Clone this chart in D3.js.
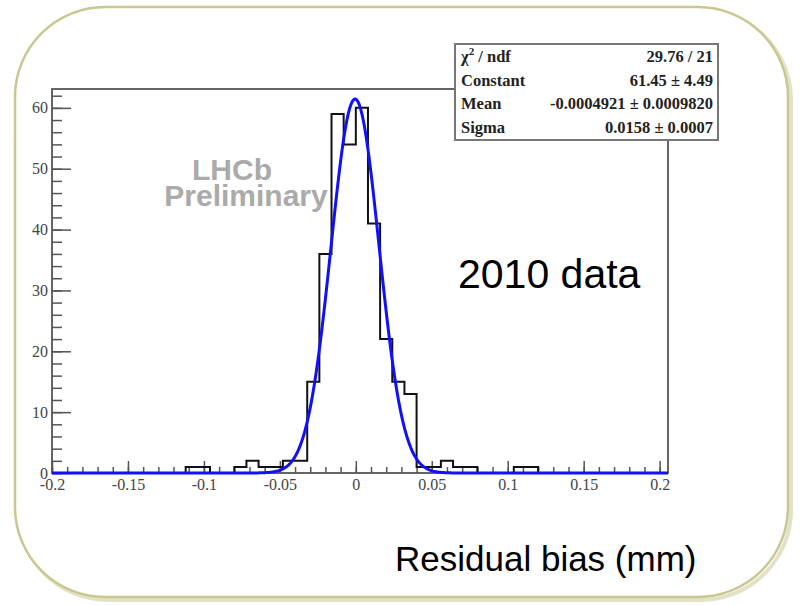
<!DOCTYPE html>
<meta charset="utf-8">
<body style="margin:0;background:#fff">
<script src="https://d3js.org/d3.v7.min.js"></script>
<script>

// histogram: 0.008 wide bins starting at -0.2
var binLo = -0.2,
    binWidth = 0.008;
var counts = [0, 0, 0, 0, 0, 0, 0, 0, 0, 0,
              0, 1, 1, 0, 0, 1, 2, 1, 1, 2,
              2, 15, 36, 59, 54, 60, 41, 22, 15, 13,
              1, 1, 2, 1, 1, 0, 0, 0, 1, 1,
              0, 0, 0, 0, 0, 0, 0, 0, 0, 0, 0];

// gaussian fit parameters (from the stats box)
var fitConstant = 61.45,
    fitMean = -0.0004921,
    fitSigma = 0.0158;

var statLabels = ["\u03c7", "Constant", "Mean", "Sigma"];
var statValues = ["29.76 / 21", "61.45 \u00b1 4.49", "-0.0004921 \u00b1 0.0009820", "0.0158 \u00b1 0.0007"];

var xTicks = [-0.2, -0.15, -0.1, -0.05, 0, 0.05, 0.1, 0.15, 0.2],
    xTickLabels = ["-0.2", "-0.15", "-0.1", "-0.05", "0", "0.05", "0.1", "0.15", "0.2"];
var yTicks = [0, 10, 20, 30, 40, 50, 60];

var W = 807, H = 606;
var frame = {left: 52, right: 668, top: 89, bottom: 473};

var svg = d3.select("body").append("svg")
    .attr("width", W)
    .attr("height", H);

// rounded panel with soft shadow
svg.append("rect")
    .attr("x", 18).attr("y", 10)
    .attr("width", 773).attr("height", 590)
    .attr("rx", 90).attr("ry", 90)
    .attr("fill", "none")
    .attr("stroke", "#e2e2c8")
    .attr("stroke-width", 4);
svg.append("rect")
    .attr("x", 15).attr("y", 7)
    .attr("width", 773).attr("height", 590)
    .attr("rx", 90).attr("ry", 90)
    .attr("fill", "#fff")
    .attr("stroke", "#c9c78f")
    .attr("stroke-width", 2.5);

var x = d3.scaleLinear().domain([-0.2, 0.2055]).range([frame.left, frame.right]),
    y = d3.scaleLinear().domain([0, 63.1]).range([frame.bottom, frame.top]);

svg.append("defs").append("clipPath")
    .attr("id", "clip")
  .append("rect")
    .attr("x", frame.left).attr("y", frame.top - 10)
    .attr("width", frame.right - frame.left).attr("height", frame.bottom - frame.top + 12);

var tickFont = "'Liberation Serif', 'Times New Roman', serif";

// y axis ticks (pointing into the frame)
var yMinor = d3.range(0, 63, 2);
svg.append("g")
    .attr("transform", "translate(" + frame.left + ",0)")
    .call(d3.axisLeft(y).tickValues(yMinor).tickSizeInner(-10).tickSizeOuter(0).tickFormat(""))
    .call(g => g.select(".domain").remove());
var gy = svg.append("g")
    .attr("transform", "translate(" + frame.left + ",0)")
    .call(d3.axisLeft(y).tickValues(yTicks).tickSizeInner(-19).tickSizeOuter(0).tickPadding(4));
gy.select(".domain").remove();

// x axis ticks
var xMinor = d3.range(-20, 21).map(d => d / 100);
svg.append("g")
    .attr("transform", "translate(0," + frame.bottom + ")")
    .call(d3.axisBottom(x).tickValues(xMinor).tickSizeInner(-6).tickSizeOuter(0).tickFormat(""))
    .call(g => g.select(".domain").remove());
var gx = svg.append("g")
    .attr("transform", "translate(0," + frame.bottom + ")")
    .call(d3.axisBottom(x).tickValues(xTicks).tickSizeInner(-12).tickSizeOuter(0).tickPadding(6)
      .tickFormat((d, i) => xTickLabels[i]));
gx.select(".domain").remove();

svg.selectAll(".tick line").attr("stroke", "#555").attr("stroke-width", 1.5);
svg.selectAll(".tick text")
    .attr("fill", "#444")
    .style("font-family", tickFont)
    .style("font-size", "16px");

// frame
svg.append("rect")
    .attr("x", frame.left).attr("y", frame.top)
    .attr("width", frame.right - frame.left).attr("height", frame.bottom - frame.top)
    .attr("fill", "none")
    .attr("stroke", "#555")
    .attr("stroke-width", 1.8);

// histogram as a step line
var steps = [];
counts.forEach(function(c, i) {
  steps.push([binLo + i * binWidth, c]);
  steps.push([binLo + (i + 1) * binWidth, c]);
});
svg.append("path")
    .datum(steps)
    .attr("clip-path", "url(#clip)")
    .attr("fill", "none")
    .attr("stroke", "#111")
    .attr("stroke-width", 2)
    .attr("d", d3.line().x(d => x(d[0])).y(d => y(d[1])));

// fitted gaussian
var fitX = d3.range(-0.2, 0.2056, 0.0005);
svg.append("path")
    .datum(fitX)
    .attr("fill", "none")
    .attr("stroke", "#1010ff")
    .attr("stroke-width", 3)
    .attr("d", d3.line()
      .x(d => x(d))
      .y(d => y(fitConstant * Math.exp(-0.5 * Math.pow((d - fitMean) / fitSigma, 2)))));

// stats box
var box = {left: 455, right: 718, top: 44, bottom: 140};
svg.append("rect")
    .attr("x", box.left).attr("y", box.top)
    .attr("width", box.right - box.left).attr("height", box.bottom - box.top)
    .attr("fill", "#fff")
    .attr("stroke", "#777")
    .attr("stroke-width", 2);
var rowY = [62, 86, 109, 133];
statLabels.forEach(function(lab, i) {
  var t = svg.append("text")
      .attr("x", box.left + 6)
      .attr("y", rowY[i])
      .attr("fill", "#222")
      .style("font-family", tickFont)
      .style("font-weight", "bold")
      .style("font-size", "16.5px")
      .text(lab);
  if (i === 0) {
    t.append("tspan").attr("dy", -7).style("font-size", "11px").text("2");
    t.append("tspan").attr("dy", 7).text(" / ndf");
  }
  svg.append("text")
      .attr("x", box.right - 5)
      .attr("y", rowY[i])
      .attr("text-anchor", "end")
      .attr("fill", "#222")
      .style("font-family", tickFont)
      .style("font-weight", "bold")
      .style("font-size", "16.5px")
      .text(statValues[i]);
});

// annotations
svg.append("text")
    .attr("x", 232).attr("y", 180)
    .attr("text-anchor", "middle")
    .attr("fill", "#aaa")
    .style("font-family", "'Liberation Sans', Arial, sans-serif")
    .style("font-weight", "bold")
    .style("font-size", "30px")
    .text("LHCb");
svg.append("text")
    .attr("x", 246).attr("y", 206)
    .attr("text-anchor", "middle")
    .attr("fill", "#aaa")
    .style("font-family", "'Liberation Sans', Arial, sans-serif")
    .style("font-weight", "bold")
    .style("font-size", "30px")
    .text("Preliminary");

svg.append("text")
    .attr("x", 458).attr("y", 288)
    .attr("fill", "#000")
    .style("font-family", "'Liberation Sans', Arial, sans-serif")
    .style("font-size", "41px")
    .text("2010 data");

svg.append("text")
    .attr("x", 395).attr("y", 571)
    .attr("fill", "#000")
    .style("font-family", "'Liberation Sans', Arial, sans-serif")
    .style("font-size", "35px")
    .text("Residual bias (mm)");

</script>
</body>
